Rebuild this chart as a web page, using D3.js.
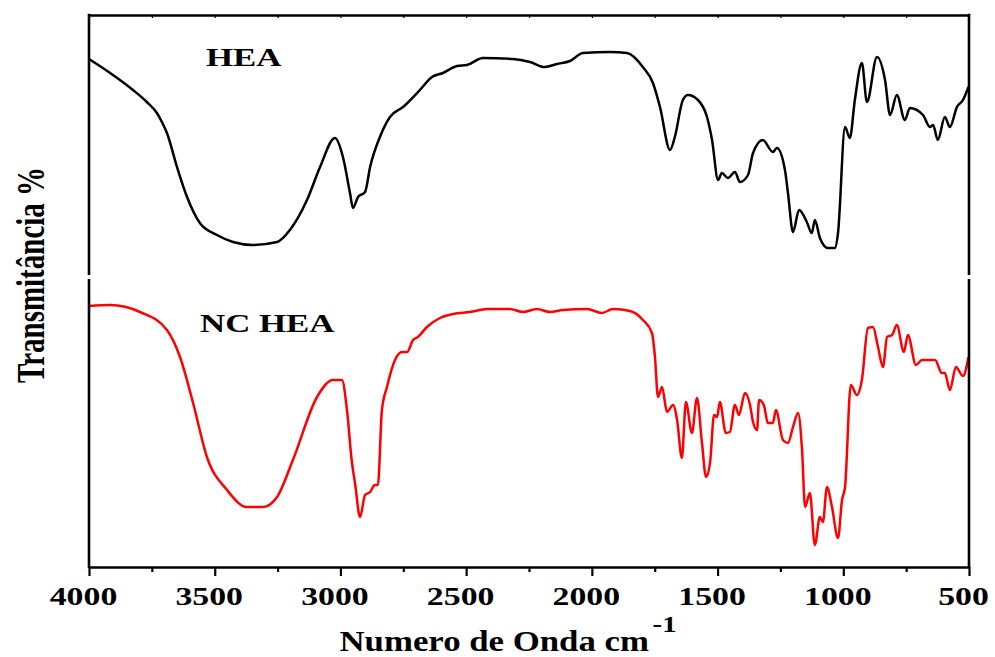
<!DOCTYPE html>
<html>
<head>
<meta charset="utf-8">
<script src="https://cdn.jsdelivr.net/npm/d3@7"></script>
<style>
  html, body { margin: 0; padding: 0; background: #fff; }
  svg { display: block; }
  text { font-family: "Liberation Serif", "Times New Roman", serif; font-weight: bold; fill: #000; }
</style>
</head>
<body>
<svg id="chart" width="995" height="657"></svg>
<script>
// ---- Data ----
const xTickValues = [4000, 3500, 3000, 2500, 2000, 1500, 1000, 500];
const xMinorValues = [3750, 3250, 2750, 2250, 1750, 1250, 750];
const xTitle = "Numero de Onda cm";
const xTitleSup = "-1";
const yTitle = "Transmitância %";
const seriesNames = ["HEA", "NC HEA"];

// HEA (top panel, black)
const heaWn = [4000, 3916, 3825, 3770, 3730, 3710, 3690, 3650, 3610, 3559, 3491, 3427, 3348, 3252, 3201, 3133, 3081, 3022,
  2990, 2962, 2950, 2930, 2902, 2882, 2843, 2803, 2751, 2684, 2636, 2592, 2536, 2497, 2433, 2314, 2246, 2187,
  2139, 2087, 2035, 1928, 1860, 1797, 1757, 1729, 1689, 1670, 1638, 1618, 1578, 1542, 1522, 1498, 1483, 1459,
  1431, 1411, 1379, 1359, 1320, 1280, 1264, 1232, 1220, 1200, 1176, 1145, 1125, 1113, 1093, 1061, 1033, 1021,
  993, 974, 954, 926, 906, 866, 834, 814, 787, 755, 735, 683, 655, 643, 624, 596, 576, 548, 524, 502];
const heaT = [108, 101, 92.5, 86.5, 81, 76.5, 71, 54, 39, 26, 20, 16.5, 15, 16.5, 22.5, 37.5, 54, 68.5,
  59, 41, 33.5, 39, 41.5, 54, 69, 79, 84, 92.5, 99, 101, 104.5, 105, 108.5, 108, 106.5, 104,
  105.5, 107, 111, 111.5, 111, 104, 96, 84, 62.5, 69, 87.5, 90, 87.5, 79, 67.5, 47.5, 51, 48.5,
  51.5, 46.5, 50, 61, 67.5, 61.5, 63.5, 52.5, 41, 21.5, 32.5, 26.5, 21, 27.5, 18.5, 13.5, 13.5, 21,
  74, 68.5, 87.5, 106, 86.5, 109, 97.5, 80, 90, 77.5, 83.5, 80, 74, 75, 67.5, 79, 74, 84, 87.5, 94];

// NC HEA (bottom panel, red)
const ncWn = [4000, 3916, 3797, 3690, 3638, 3586, 3531, 3451, 3372, 3308, 3252, 3189, 3093, 3030, 2994, 2974,
  2954, 2942, 2922, 2902, 2882, 2863, 2851, 2835, 2815, 2783, 2755, 2735, 2711, 2692, 2656, 2604, 2552, 2485,
  2417, 2326, 2274, 2218, 2167, 2115, 2019, 1960, 1916, 1848, 1797, 1761, 1749, 1737, 1721, 1701, 1677, 1661,
  1642, 1626, 1602, 1582, 1562, 1546, 1530, 1514, 1502, 1491, 1467, 1451, 1431, 1415, 1391, 1371, 1359, 1343,
  1335, 1316, 1300, 1280, 1268, 1240, 1220, 1200, 1180, 1164, 1152, 1133, 1113, 1093, 1081, 1065, 1045, 1021,
  1005, 993, 970, 946, 926, 902, 882, 862, 842, 826, 806, 787, 759, 743, 711, 687, 635, 608, 596, 576, 552, 524, 502];
const ncT = [130.5, 131, 127.5, 118.5, 105, 82, 55, 38.5, 30, 30, 35, 53.5, 85, 93.5, 93.5, 78.5,
  52, 42, 25, 36, 37.5, 41, 41, 78.5, 90, 103.5, 107.5, 107.5, 113.5, 115, 120, 124.5, 126.5, 127.5,
  129, 129, 127.5, 129, 127.5, 128.5, 129, 127, 129, 128, 123.5, 117, 105, 85, 90, 77.5, 81, 73.5,
  54.5, 82.5, 67, 84.5, 62, 45, 52, 76, 75, 82.5, 67, 67.5, 81, 76, 87, 81, 72.5, 68.5,
  83.5, 81, 72, 72, 78.5, 63.5, 62, 70, 77, 58.5, 30, 37, 11, 25, 22.5, 40, 30, 14.5,
  33.5, 40, 91, 86, 93.5, 119.5, 120, 110, 100, 115, 116, 121, 107.5, 116, 101, 103.5, 103.5, 97, 97, 88.5, 100, 95.5, 105];

// ---- Layout ----
const svg = d3.select("#chart");
const plotLeft = 89, plotRight = 969;
const topY0 = 15, topY1 = 275, botY0 = 279, botY1 = 567;

const x = d3.scaleLinear().domain([4000, 500]).range([plotLeft, plotRight]);
const yTop = d3.scaleLinear().domain([0, 130]).range([topY1, topY0]);
const yBot = d3.scaleLinear().domain([0, 144]).range([botY1, botY0]);

const heaData = heaWn.map((w, i) => ({ wn: w, t: heaT[i] }));
const ncData = ncWn.map((w, i) => ({ wn: w, t: ncT[i] }));

const lineTop = d3.line().x(d => x(d.wn)).y(d => yTop(d.t)).curve(d3.curveMonotoneX);
const lineBot = d3.line().x(d => x(d.wn)).y(d => yBot(d.t)).curve(d3.curveMonotoneX);

// curves
svg.append("path").datum(heaData).attr("d", lineTop)
  .attr("fill", "none").attr("stroke", "#000").attr("stroke-width", 2.5).attr("stroke-linejoin", "round");
svg.append("path").datum(ncData).attr("d", lineBot)
  .attr("fill", "none").attr("stroke", "#ff0000").attr("stroke-width", 2.5).attr("stroke-linejoin", "round");

// frame side lines (two panels with small gap)
const frame = svg.append("g").attr("stroke", "#000").attr("stroke-width", 2.6);
[plotLeft, plotRight].forEach(px => {
  frame.append("line").attr("x1", px).attr("x2", px).attr("y1", topY0 - 1.2).attr("y2", topY1);
  frame.append("line").attr("x1", px).attr("x2", px).attr("y1", botY0).attr("y2", botY1 + 1.2);
});

// top axis (inward small ticks)
const topAxis = svg.append("g").attr("transform", `translate(0,${topY0})`)
  .call(d3.axisTop(x).tickValues(xTickValues.concat(xMinorValues)).tickSizeInner(-3).tickSizeOuter(0).tickFormat(""));
topAxis.select(".domain").attr("stroke-width", 2.5);
topAxis.selectAll(".tick line").attr("stroke-width", 1.2);

// bottom axis: minor ticks
const botMinor = svg.append("g").attr("transform", `translate(0,${botY1})`)
  .call(d3.axisBottom(x).tickValues(xMinorValues).tickSizeInner(5).tickSizeOuter(0).tickFormat(""));
botMinor.select(".domain").remove();
botMinor.selectAll(".tick line").attr("stroke-width", 2.2);

// bottom axis: major ticks + labels
const botAxis = svg.append("g").attr("transform", `translate(0,${botY1})`)
  .call(d3.axisBottom(x).tickValues(xTickValues).tickSizeInner(9).tickSizeOuter(0).tickPadding(11).tickFormat(d3.format("d")));
botAxis.select(".domain").attr("stroke-width", 2.5);
botAxis.selectAll(".tick line").attr("stroke-width", 2.2);
botAxis.selectAll(".tick text")
  .attr("font-size", 26)
  .attr("fill", "#000")
  .attr("transform", "translate(-6,0) scale(1.3,1)");

// x title
const xt = svg.append("text")
  .attr("transform", "translate(508,651) scale(1.2,1)")
  .attr("text-anchor", "middle")
  .attr("font-size", 29);
xt.append("tspan").text(xTitle);
xt.append("tspan").attr("font-size", 24).attr("dy", -19).attr("dx", 3).text(xTitleSup);

// y title
svg.append("text")
  .attr("transform", "translate(44,275) scale(1.4,1) rotate(-90)")
  .attr("text-anchor", "middle")
  .attr("font-size", 29)
  .text(yTitle);

// panel labels
svg.append("text").attr("transform", "translate(206,66) scale(1.34,1)").attr("font-size", 26).text(seriesNames[0]);
svg.append("text").attr("transform", "translate(200,332) scale(1.34,1)").attr("font-size", 26).text(seriesNames[1]);
</script>
</body>
</html>
